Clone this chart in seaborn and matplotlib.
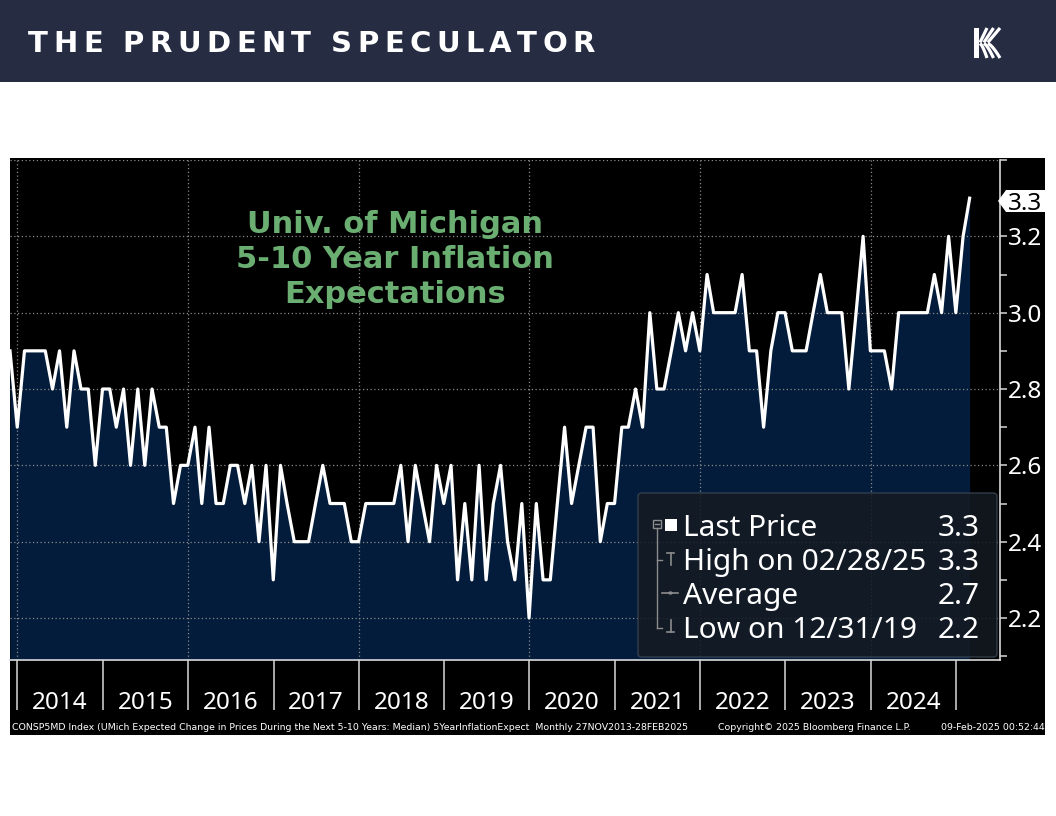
import numpy as np
import pandas as pd
import matplotlib
matplotlib.use("Agg")
import matplotlib.pyplot as plt
import matplotlib.dates as mdates
from matplotlib.ticker import FixedLocator, MultipleLocator, NullFormatter, FixedFormatter
from matplotlib.patches import Rectangle, Polygon, FancyBboxPatch, Circle
from matplotlib.lines import Line2D
from matplotlib.font_manager import FontProperties
import seaborn as sns

# ---------------- data ----------------
values = [
    2.9, 2.7,                                                    # Nov-Dec 2013
    2.9, 2.9, 2.9, 2.9, 2.8, 2.9, 2.7, 2.9, 2.8, 2.8, 2.6, 2.8,  # 2014
    2.8, 2.7, 2.8, 2.6, 2.8, 2.6, 2.8, 2.7, 2.7, 2.5, 2.6, 2.6,  # 2015
    2.7, 2.5, 2.7, 2.5, 2.5, 2.6, 2.6, 2.5, 2.6, 2.4, 2.6, 2.3,  # 2016
    2.6, 2.5, 2.4, 2.4, 2.4, 2.5, 2.6, 2.5, 2.5, 2.5, 2.4, 2.4,  # 2017
    2.5, 2.5, 2.5, 2.5, 2.5, 2.6, 2.4, 2.6, 2.5, 2.4, 2.6, 2.5,  # 2018
    2.6, 2.3, 2.5, 2.3, 2.6, 2.3, 2.5, 2.6, 2.4, 2.3, 2.5, 2.2,  # 2019
    2.5, 2.3, 2.3, 2.5, 2.7, 2.5, 2.6, 2.7, 2.7, 2.4, 2.5, 2.5,  # 2020
    2.7, 2.7, 2.8, 2.7, 3.0, 2.8, 2.8, 2.9, 3.0, 2.9, 3.0, 2.9,  # 2021
    3.1, 3.0, 3.0, 3.0, 3.0, 3.1, 2.9, 2.9, 2.7, 2.9, 3.0, 3.0,  # 2022
    2.9, 2.9, 2.9, 3.0, 3.1, 3.0, 3.0, 3.0, 2.8, 3.0, 3.2, 2.9,  # 2023
    2.9, 2.9, 2.8, 3.0, 3.0, 3.0, 3.0, 3.0, 3.1, 3.0, 3.2, 3.0,  # 2024
    3.2, 3.3,                                                    # Jan-Feb 2025
]
first_month = "2013-11-30"
year_labels = [str(y) for y in range(2014, 2025)]
separator_years = list(range(2014, 2026))
grid_years = list(range(2014, 2025, 2))
y_ticks = [2.2, 2.4, 2.6, 2.8, 3.0, 3.2, 3.4]
y_tick_labels = ["2.2", "2.4", "2.6", "2.8", "3.0", "3.2", ""]
title_lines = ["Univ. of Michigan", "5-10 Year Inflation", "Expectations"]
legend_labels = ["Last Price", "High on 02/28/25", "Average", "Low on 12/31/19"]
legend_values = ["3.3", "3.3", "2.7", "2.2"]
last_value_label = "3.3"
header_text = "THE PRUDENT SPECULATOR"
footer_left = ("CONSP5MD Index (UMich Expected Change in Prices During the Next 5-10 Years: Median) "
               "5YearInflationExpect  Monthly 27NOV2013-28FEB2025")
footer_mid = "Copyright\u00a9 2025 Bloomberg Finance L.P."
footer_right = "09-Feb-2025 00:52:44"

dates = pd.date_range(first_month, periods=len(values), freq="ME")
df = pd.DataFrame({"date": dates, "value": values})

# ---------------- figure ----------------
W, H = 1056, 816
plt.rcParams["font.family"] = ["Noto Sans", "DejaVu Sans"]
fig = plt.figure(figsize=(W / 100, H / 100), dpi=100, facecolor="white")


def fx(x):
    return x / W


def fy(y):
    return 1 - y / H


# header band
fig.patches.append(Rectangle((0, fy(82)), 1, 82 / H, transform=fig.transFigure,
                             facecolor="#262d42", edgecolor="none", zorder=-2))
# black chart panel
fig.patches.append(Rectangle((fx(10), fy(735)), (1045 - 10) / W, (735 - 158) / H,
                             transform=fig.transFigure, facecolor="black",
                             edgecolor="none", zorder=-1))

ax = fig.add_axes([fx(10), fy(660), (1000 - 10) / W, (660 - 160) / H])
ax.set_facecolor("black")

ymin, ymax = 2.09, 3.40
x_left = pd.Timestamp(first_month)
x_right = pd.Timestamp("2025-07-08")

ax.fill_between(df["date"], df["value"], ymin - 0.5, color="#031c3b", zorder=1, linewidth=0)
sns.lineplot(data=df, x="date", y="value", ax=ax, color="white", linewidth=2.3,
             legend=False, zorder=3)

ax.set_xlim(x_left, x_right)
ax.set_ylim(ymin, ymax)
ax.set_xlabel("")
ax.set_ylabel("")

# grid
for v in y_ticks:
    ax.axhline(v, color="#8a8a8a", linestyle=(0, (1, 2)), linewidth=0.9, zorder=2)
for yr in grid_years:
    ax.axvline(pd.Timestamp(f"{yr}-01-01"), color="#8a8a8a", linestyle=(0, (1, 2)),
               linewidth=0.9, zorder=2)

# spines
for s in ["top", "left"]:
    ax.spines[s].set_visible(False)
for s in ["right", "bottom"]:
    ax.spines[s].set_color("#d8d8d8")
    ax.spines[s].set_linewidth(1.2)

# y axis on right
ax.yaxis.tick_right()
ax.set_yticks(y_ticks)
ax.set_yticklabels(y_tick_labels)
ax.yaxis.set_minor_locator(MultipleLocator(0.1))
ax.tick_params(axis="y", which="both", direction="out", length=5, width=1.1,
               color="#d8d8d8", labelcolor="white", labelsize=17.5, pad=1,
               left=False, labelleft=False)

# x axis: separators at year starts, labels at mid-year
sep_pos = mdates.date2num([pd.Timestamp(f"{y}-01-01") for y in separator_years])
lab_pos = mdates.date2num([pd.Timestamp(f"{y}-07-02") for y in year_labels])
ax.xaxis.set_major_locator(FixedLocator(sep_pos))
ax.xaxis.set_major_formatter(NullFormatter())
ax.xaxis.set_minor_locator(FixedLocator(lab_pos))
ax.xaxis.set_minor_formatter(FixedFormatter(year_labels))
ax.tick_params(axis="x", which="major", direction="out", length=36, width=1.1,
               color="#d8d8d8")
ax.tick_params(axis="x", which="minor", length=0, labelsize=17.5, labelcolor="white",
               pad=22.5)

# title inside chart
title_baselines = [233, 268, 303]
for line, yb in zip(title_lines, title_baselines):
    fig.text(fx(395), fy(yb), line, ha="center", va="baseline", color="#6aae72",
             fontsize=22, fontweight="bold", family="DejaVu Sans", zorder=6)

# last value tag
tag = Polygon([(fx(998), fy(201)), (fx(1006), fy(190)), (fx(1045), fy(190)),
               (fx(1045), fy(212)), (fx(1006), fy(212))], closed=True,
              transform=fig.transFigure, facecolor="white", edgecolor="none", zorder=6)
fig.patches.append(tag)
fig.text(fx(1008), fy(201), last_value_label, ha="left", va="center_baseline",
         color="black", fontsize=17.5, zorder=7)

# legend box
box = FancyBboxPatch((fx(638), fy(657)), (997 - 638) / W, (657 - 493) / H,
                     boxstyle="round,pad=0,rounding_size=0.004",
                     transform=fig.transFigure, facecolor="#141a22", alpha=0.86,
                     edgecolor="#3a4452", linewidth=1.0, zorder=5)
fig.patches.append(box)
row_base = [536, 570, 604, 638]
for lab, val, yb in zip(legend_labels, legend_values, row_base):
    fig.text(fx(683), fy(yb), lab, ha="left", va="baseline", color="white",
             fontsize=21.5, zorder=7)
    fig.text(fx(980), fy(yb), val, ha="right", va="baseline", color="white",
             fontsize=21.5, zorder=7)

grey = "#8c8c8c"


def fline(xs, ys, **kw):
    fig.add_artist(Line2D([fx(x) for x in xs], [fy(y) for y in ys],
                          transform=fig.transFigure, zorder=7, **kw))


# tree decorations
fig.patches.append(Rectangle((fx(653), fy(528)), 8 / W, 8 / H, transform=fig.transFigure,
                             facecolor="none", edgecolor=grey, linewidth=1, zorder=7))
fline([655, 659], [524, 524], color=grey, lw=1)
fig.patches.append(Rectangle((fx(665), fy(531)), 12 / W, 12 / H, transform=fig.transFigure,
                             facecolor="white", edgecolor="none", zorder=7))
fline([657, 657], [528, 628], color=grey, lw=1)
fline([657, 662], [560, 560], color=grey, lw=1)
fline([657, 662], [628, 628], color=grey, lw=1)
# high marker
fline([667, 674], [553, 553], color=grey, lw=1.2)
fline([670.5, 670.5], [553, 565], color=grey, lw=1.2)
# average marker
fline([662, 678], [593, 593], color=grey, lw=1.2)
fig.patches.append(Circle((fx(670.5), fy(593)), 2.2 / W, transform=fig.transFigure,
                          facecolor=grey, edgecolor="none", zorder=7))
# low marker
fline([670.5, 670.5], [620, 632], color=grey, lw=1.2)
fline([667, 674], [632, 632], color=grey, lw=1.2)

# footer
fig.text(fx(12), fy(727), footer_left, ha="left", va="center", color="white",
         fontsize=6.75, family="DejaVu Sans")
fig.text(fx(718), fy(727), footer_mid, ha="left", va="center", color="white",
         fontsize=6.75, family="DejaVu Sans")
fig.text(fx(1045), fy(727), footer_right, ha="right", va="center", color="white",
         fontsize=6.75, family="DejaVu Sans")

# header text with wide tracking
fp = FontProperties(family="DejaVu Sans", weight="bold", size=21)
renderer = fig.canvas.get_renderer()
widths = []
for ch in header_text:
    if ch == " ":
        w = renderer.get_text_width_height_descent("T", fp, ismath=False)[0] * 0.45
    else:
        w = renderer.get_text_width_height_descent(ch, fp, ismath=False)[0]
    widths.append(w)
x_start, x_end = 28.0, 595.0
track = (x_end - x_start - sum(widths)) / (len(header_text) - 1)
xc = x_start
for ch, w in zip(header_text, widths):
    if ch != " ":
        fig.text(fx(xc), fy(51.5), ch, ha="left", va="baseline", color="white",
                 fontproperties=fp)
    xc += w + track

# logo (stylised K)
fig.patches.append(Rectangle((fx(974), fy(58)), 5 / W, 30 / H, transform=fig.transFigure,
                             facecolor="white", edgecolor="none", zorder=3))
for k in range(3):
    off = 6.5 * k
    fline([987 + off, 980 + off * 0.6], [28, 42.5], color="white", lw=2.3,
          solid_capstyle="butt")
    t = np.linspace(0, 1, 12)
    xs = 980 + off * 0.6 + (7 + off * 0.4) * t ** 0.7
    ys = 43.5 + 14.5 * t
    fline(list(xs), list(ys), color="white", lw=2.3, solid_capstyle="butt")

fig.savefig("out.png", dpi=100, facecolor="white")
